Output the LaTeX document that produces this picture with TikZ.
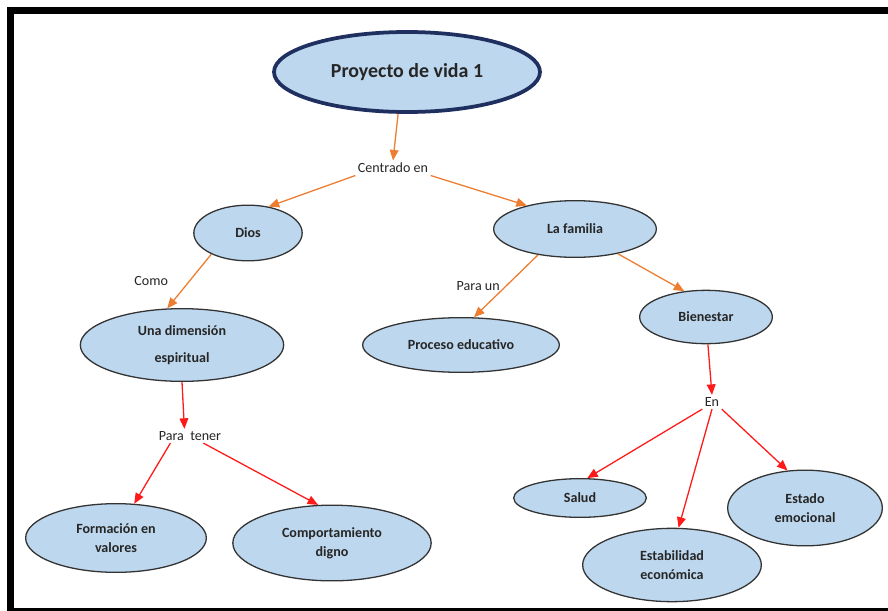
\documentclass[tikz,border=0pt]{standalone}
\usepackage{fontspec}
\setmainfont{Carlito}
\usetikzlibrary{shapes.geometric,arrows.meta,positioning}
\definecolor{azul}{HTML}{BDD7EE}
\definecolor{marino}{HTML}{1F2F5F}
\definecolor{naranjo}{HTML}{ED7D31}
\definecolor{rojo}{HTML}{FF1A1A}

\begin{document}
\begin{tikzpicture}[x=0.03cm,y=-0.03cm,
	concepto/.style={ellipse,draw=black!80,line width=1.1pt,fill=azul,inner sep=0pt,align=center,
		font=\bfseries\fontsize{12}{16}\selectfont,text=black!85},
	enlace/.style={inner sep=2pt,font=\fontsize{12}{14}\selectfont,text=black!85},
	flecha/.style={line width=1.1pt,-{Triangle[length=9pt,width=7.5pt]}}]
	\useasboundingbox (0,0) rectangle (888,611);
	% marco
	\fill (7,7) rectangle (888,14);
	\fill (7,7) rectangle (14,611);
	\fill (7,608) rectangle (888,611);
	
	\node[concepto,draw=marino,line width=3.2pt,minimum width=7.98cm,minimum height=2.4cm,
		font=\bfseries\fontsize{17}{20}\selectfont] (proyecto) at (407,72) {Proyecto de vida 1};
	\node[enlace] (centrado) at (393,168) {Centrado en};
	\node[concepto,minimum width=3.25cm,minimum height=1.67cm] (dios) at (248,233) {Dios};
	\node[concepto,minimum width=4.88cm,minimum height=1.7cm] (familia) at (575,229) {La familia};
	\node[concepto,minimum width=6.1cm,minimum height=2.18cm] (una) at (182,345) {Una dimensión\\[7pt]espiritual};
	\node[concepto,minimum width=5.9cm,minimum height=1.64cm] (proceso) at (461,345) {Proceso educativo};
	\node[concepto,minimum width=3.98cm,minimum height=1.6cm] (bienestar) at (706,317) {Bienestar};
	\node[enlace] (tener) at (190,436) {Para\ \ tener};
	\node[enlace] (en) at (712,402) {En};
	\node[concepto,minimum width=5.42cm,minimum height=2.06cm] (formacion) at (116,538) {Formación en\\valores};
	\node[concepto,minimum width=5.95cm,minimum height=2.27cm] (comportamiento) at (332,543) {Comportamiento\\digno};
	\node[concepto,minimum width=3.98cm,minimum height=1.16cm] (salud) at (580,498) {Salud};
	\node[concepto,minimum width=5.36cm,minimum height=2.2cm] (estabilidad) at (672,565) {Estabilidad\\económica};
	\node[concepto,minimum width=4.64cm,minimum height=2.27cm] (estado) at (805,508) {Estado\\emocional};
	
	\path[flecha,naranjo]
	(proyecto.258) edge (centrado.north)
	(centrado.south west) edge (dios.52)
	(centrado.south east) edge (familia.154)
	(dios.210) edge node[enlace,left=5.5mm] {Como} (una.112)
	(familia.215) edge node[enlace,left=1mm] {Para un} (proceso.65)
	(familia.330) edge (bienestar.130);
	
	\path[flecha,rojo]
	(una.south) edge (tener.128)
	(tener.200) edge (formacion.62)
	(tener.332) edge (comportamiento.110)
	(bienestar.274) edge (en.north)
	(en.south west) edge (salud.70)
	(en.south) edge (estabilidad.80)
	(en.south east) edge (estado.115);
\end{tikzpicture}
\end{document}
